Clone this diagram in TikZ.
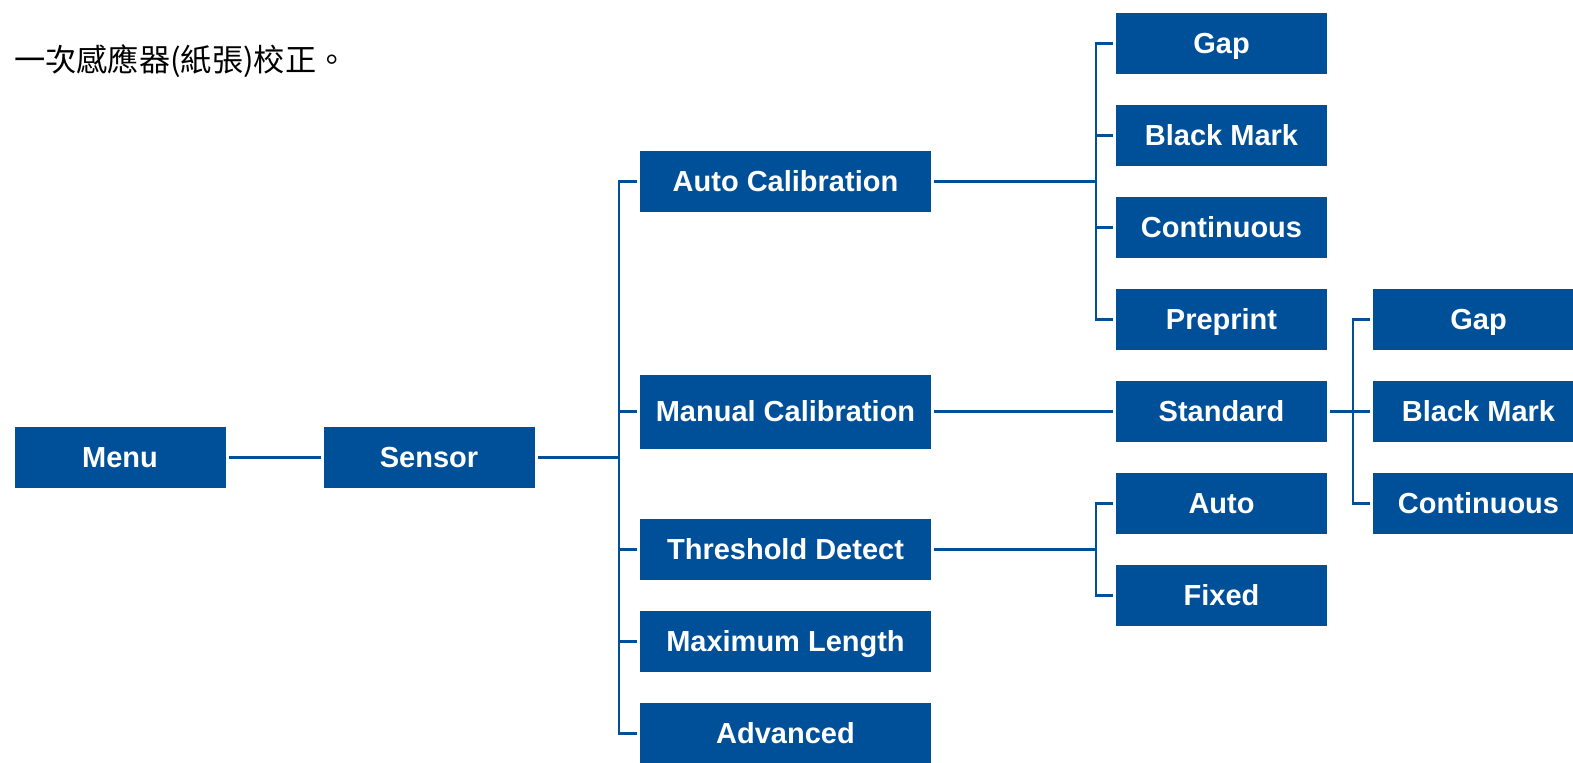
\documentclass[tikz,border=0pt]{standalone}
\usepackage{fontspec}
\setmainfont{Liberation Sans}
\newfontfamily\cjk{Noto Sans CJK TC}
\usetikzlibrary{positioning}
\definecolor{menublue}{RGB}{0,79,153}

\begin{document}
\begin{tikzpicture}[x=0.5pt,y=-0.5pt,node distance=15.5pt,
  every node/.style={font=\bfseries\fontsize{14.5pt}{17pt}\selectfont},
  item/.style={fill=menublue,text=white,inner sep=0pt,outer sep=0pt,minimum width=105.5pt,minimum height=30.5pt,text height=9.8pt,text depth=0pt},
  wide/.style={item,minimum width=145.5pt},
  link/.style={draw=menublue,line width=1.25pt}]
\useasboundingbox (0,0) rectangle (1573,762);
\clip (0,0) rectangle (1573,762);
\node[anchor=base west,inner sep=0pt,font=\cjk\fontsize{15.6pt}{18pt}\selectfont] (title) at (14,71) {一次感應器(紙張)校正。};
\node[item] (menu) at (120,457.5) {Menu};
\node[item,right=49pt of menu] (sensor) {Sensor};
\node[wide] (auto) at (785.5,181.5) {Auto Calibration};
\node[wide,minimum height=37pt] (manual) at (785.5,411.5) {Manual Calibration};
\node[wide] (thresh) at (785.5,549.5) {Threshold Detect};
\node[wide,below=of thresh] (maxlen) {Maximum Length};
\node[wide,below=of maxlen] (adv) {Advanced};
\node[item] (gap) at (1221.5,43.5) {Gap};
\node[item,below=of gap] (black) {Black Mark};
\node[item,below=of black] (cont) {Continuous};
\node[item,below=of cont] (preprint) {Preprint};
\node[item,below=of preprint] (std) {Standard};
\node[item,below=of std] (autodet) {Auto};
\node[item,below=of autodet] (fixed) {Fixed};
\node[item,right=23pt of preprint] (stdgap) {Gap};
\node[item,below=of stdgap] (stdblack) {Black Mark};
\node[item,below=of stdblack] (stdcont) {Continuous};
\coordinate (sensorfork) at (619,457.5);
\coordinate (autofork) at (1096,181.5);
\coordinate (threshfork) at (1096,549.5);
\coordinate (stdfork) at (1353,411.5);
\draw[link,shorten <=1.5pt,shorten >=1.5pt] (menu) -- (sensor);
\draw[link,shorten <=1.5pt] (sensor) -- (sensorfork);
\foreach \n in {auto,manual,thresh,maxlen,adv}
  \draw[link,shorten >=1.5pt] (sensorfork) |- (\n);
\draw[link,shorten <=1.5pt] (auto) -- (autofork);
\foreach \n in {gap,black,cont,preprint}
  \draw[link,shorten >=1.5pt] (autofork) |- (\n);
\draw[link,shorten <=1.5pt,shorten >=1.5pt] (manual) -- (std);
\draw[link,shorten <=1.5pt] (thresh) -- (threshfork);
\foreach \n in {autodet,fixed}
  \draw[link,shorten >=1.5pt] (threshfork) |- (\n);
\draw[link,shorten <=1.5pt] (std) -- (stdfork);
\foreach \n in {stdgap,stdblack,stdcont}
  \draw[link,shorten >=1.5pt] (stdfork) |- (\n);
\end{tikzpicture}
\end{document}
